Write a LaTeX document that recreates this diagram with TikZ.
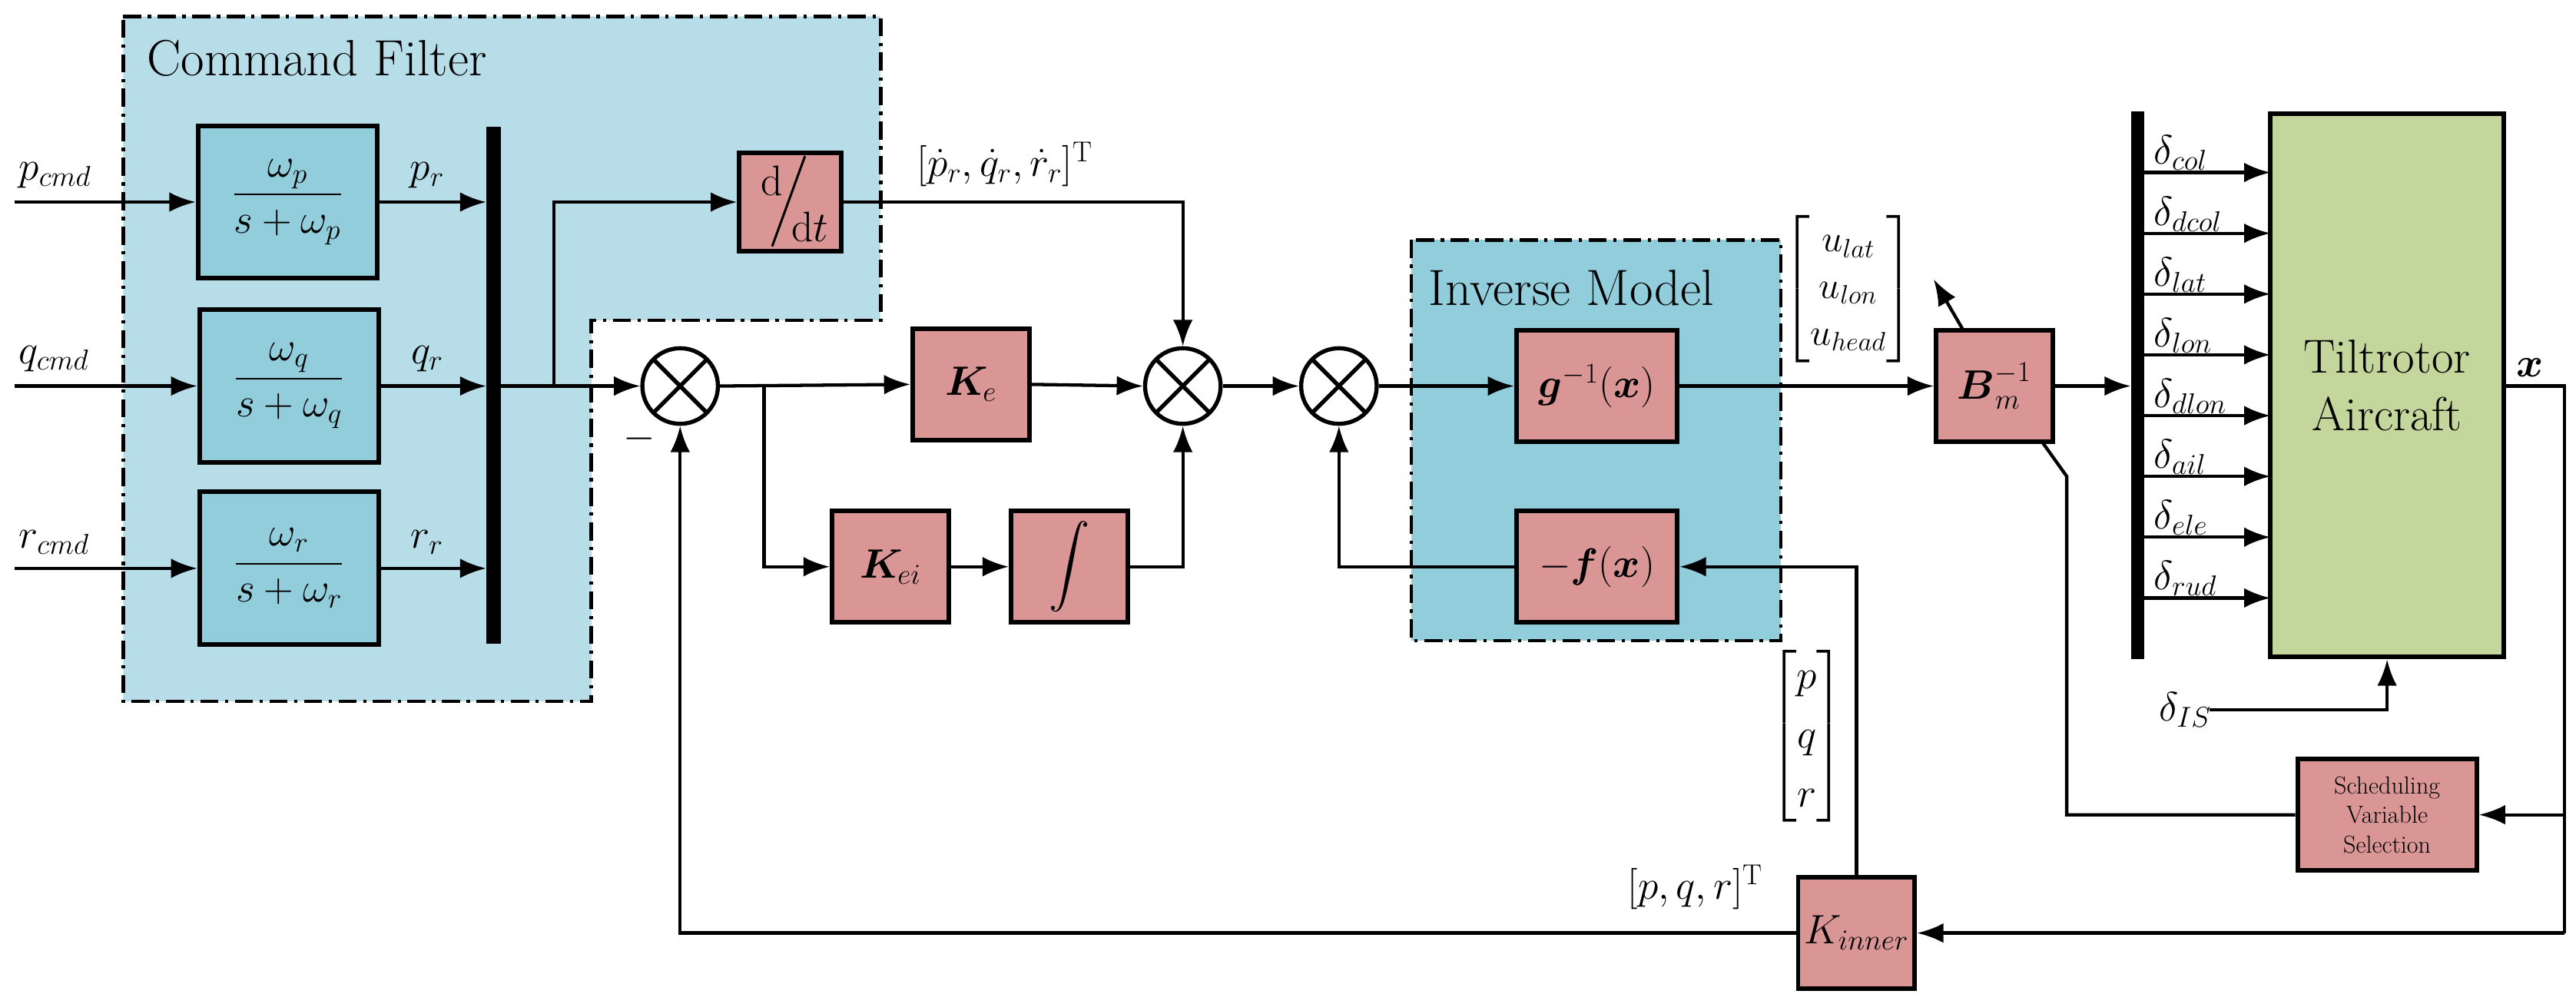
\RequirePackage{fix-cm}
\documentclass[tikz,border=0pt]{standalone}
\usepackage{amsmath}
\usepackage{fontspec}
\usetikzlibrary{arrows.meta}
\definecolor{cfbg}{HTML}{B7DDE8}
\definecolor{imbg}{HTML}{92CDDC}
\definecolor{pk}{HTML}{D99694}
\definecolor{gr}{HTML}{C3D69B}
\begin{document}
\begin{tikzpicture}[x=1pt,y=-1pt,
  every node/.style={font=\fontsize{25}{30}\selectfont},
  arr/.style={line width=2pt,-{Latex[length=16pt,width=12pt]}},
  ln/.style={line width=2pt},
  blk/.style={draw,line width=2.8pt,inner sep=0pt,align=center},
  tf/.style={blk,fill=imbg,minimum width=109pt,minimum height=93pt},
  pb/.style={blk,fill=pk,minimum width=71pt,minimum height=68pt},
  region/.style={line width=2.2pt,dash pattern=on 11pt off 4pt on 2pt off 4pt},
  sum/.style={circle,draw,line width=2.5pt,minimum size=46pt,inner sep=0pt,
    path picture={\draw[line width=2.5pt] (path picture bounding box.north west)--(path picture bounding box.south east)
      (path picture bounding box.north east)--(path picture bounding box.south west);}},
  lbl/.style={font=\fontsize{25}{30}\selectfont}]
\useasboundingbox (0,0) rectangle (1568,611);
% regions
\draw[region,fill=cfbg] (75,10)--(536,10)--(536,195)--(360,195)--(360,427)--(75,427)--cycle;
\draw[region,fill=imbg] (859,146) rectangle (1084,390);
\node[anchor=base west,font=\fontsize{31}{36}\selectfont] (cft) at (86,46) {Command Filter};
\node[anchor=base west,font=\fontsize{31}{36}\selectfont] (imt) at (866,186) {Inverse Model};
% transfer functions
\node[tf] (tp) at (175,123) {$\dfrac{\omega_p}{s+\omega_p}$};
\node[tf] (tq) at (176,235) {$\dfrac{\omega_q}{s+\omega_q}$};
\node[tf] (tr) at (176,346) {$\dfrac{\omega_r}{s+\omega_r}$};
\fill (296,77) rectangle (305,392);
\coordinate (bp) at (296,123); \coordinate (bq) at (296,235); \coordinate (br) at (296,346);
\coordinate (ip) at (9,123); \coordinate (iq) at (9,235); \coordinate (ir) at (9,346);
\draw[arr] (ip)--(tp.west); \draw[arr] (iq)--(tq.west); \draw[arr] (ir)--(tr.west);
\node[lbl,anchor=south west] (lp) at (8,118) {$p_{cmd}$};
\node[lbl,anchor=south west] (lq) at (8,230) {$q_{cmd}$};
\node[lbl,anchor=south west] (lr) at (8,341) {$r_{cmd}$};
\draw[arr] (tp.east)--(bp); \draw[arr] (tq.east)--(bq); \draw[arr] (tr.east)--(br);
\node[lbl,anchor=south] (lpr) at (260,118) {$p_r$};
\node[lbl,anchor=south] (lqr) at (260,230) {$q_r$};
\node[lbl,anchor=south] (lrr) at (260,341) {$r_r$};
% sums
\node[sum] (s1) at (414,235) {};
\node[sum] (s2) at (720,235) {};
\node[sum] (s3) at (815,235) {};
\coordinate (bo) at (305,235);
\draw[arr] (bo)--(s1.west);
\node[pb,minimum width=62pt,minimum height=60pt] (ddt) at (481,123) {};
\node[font=\fontsize{26}{30}\selectfont] (dd) at (470,110) {d};
\node[font=\fontsize{26}{30}\selectfont] (dt) at (493,138) {d$t$};
\draw[line width=1.4pt] (490,95)--(470,150);
\draw[arr] (337,235) |- (ddt.west);
\draw[arr] (ddt.east) -| (s2.north);
\node[lbl,anchor=west,inner sep=1pt] (dl) at (557,100) {$[\dot p_r,\dot q_r,\dot r_r]^{\mathrm T}$};
\node[pb] (ke) at (591,234) {$\boldsymbol{K}_{\!e}$};
\node[pb] (kei) at (542,345) {$\boldsymbol{K}_{\!ei}$};
\node[pb] (int) at (651,345) {$\displaystyle\int$};
\draw[arr] (s1.east)--(ke.west);
\draw[arr] (ke.east)--(s2.west);
\draw[arr] (465,235) |- (kei.west);
\draw[arr] (kei.east)--(int.west);
\draw[arr] (int.east) -| (s2.south);
\draw[arr] (s2.east)--(s3.west);
\node[lbl] (minus) at (389,267) {$-$};
% inverse model
\node[pb,minimum width=98pt] (g) at (972,235) {$\boldsymbol{g}^{-1}(\boldsymbol{x})$};
\node[pb,minimum width=98pt] (f) at (972,345) {$-\boldsymbol{f}(\boldsymbol{x})$};
\draw[arr] (s3.east)--(g.west);
\draw[arr] (f.west) -| (s3.south);
\node[pb] (bm) at (1214,235) {$\boldsymbol{B}_{m}^{-1}$};
\draw[arr] (g.east)--(bm.west);
\node[font=\fontsize{23}{27}\selectfont,anchor=center] (um) at (1125,176) {$\renewcommand{\arraystretch}{1.05}\begin{bmatrix} u_{lat}\\ u_{lon}\\ u_{head}\end{bmatrix}$};
\draw[arr] (1195,201)--(1177,170);
% bar and deltas
\fill (1297,68) rectangle (1305,401);
\coordinate (b2) at (1297,235);
\draw[arr] (bm.east)--(b2);
\node[blk,fill=gr,minimum width=142pt,minimum height=331pt,font=\fontsize{29}{35}\selectfont] (tilt) at (1453,234.5) {Tiltrotor\\Aircraft};
\foreach \y/\s in {105/col,142/dcol,179/lat,216/lon,253/dlon,290/ail,327/ele,364/rud}{
  \draw[arr] (1305,\y)--(1382,\y);
  \node[lbl,anchor=south west,inner sep=1pt] at (1310,\y) {$\delta_{\s}$};
}
\node[lbl] (dis) at (1330,432) {$\delta_{IS}$};
\draw[arr] (1345,432) -| (tilt.south);
% feedback
\node[pb] (kin) at (1130,568) {$K_{inner}$};
\node[pb,minimum width=109pt,font=\fontsize{15}{18}\selectfont] (svs) at (1453,496) {Scheduling\\Variable\\Selection};
\coordinate (xo) at (1561,235);
\draw[ln] (tilt.east |- xo)--(xo)--(1561,568);
\draw[arr] (1561,568)--(kin.east);
\draw[arr] (1561,496)--(svs.east);
\node[lbl,anchor=south] (xl) at (1540,233) {$\boldsymbol{x}$};
\draw[arr] (kin.north) |- (f.east);
\draw[arr] (kin.west) -| (s1.south);
\draw[ln] (1243,269)--(1258,290)--(1258,496)--(svs.west);
\node[lbl,anchor=east] (pqr) at (1126,448) {$\renewcommand{\arraystretch}{1.2}\begin{bmatrix} p\\ q\\ r\end{bmatrix}$};
\node[lbl] (pqrt) at (1032,540) {$[p,q,r]^{\mathrm T}$};
\end{tikzpicture}
\end{document}
